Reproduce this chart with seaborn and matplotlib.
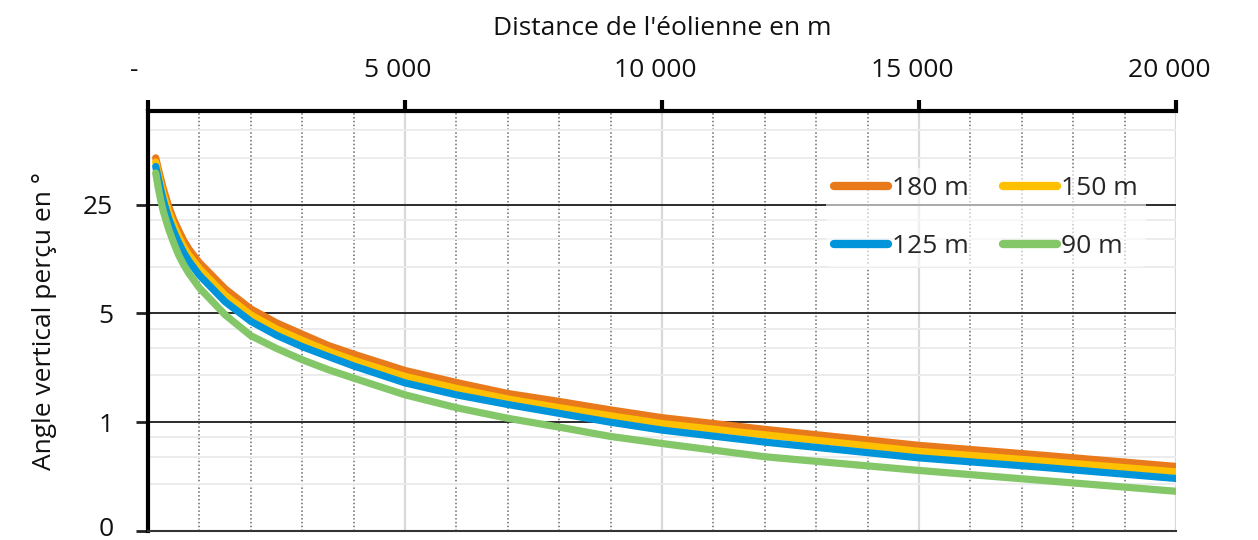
import numpy as np
import pandas as pd
import matplotlib
matplotlib.use("Agg")
import matplotlib.pyplot as plt
import seaborn as sns
from matplotlib.transforms import ScaledTranslation
from matplotlib.ticker import FixedLocator, NullFormatter

# ---- data ----
distances = [150, 200, 250, 300, 400, 500, 600, 700, 800, 1000, 1500, 2000, 2500,
             3000, 3500, 4000, 5000, 6000, 7000, 8000, 9000, 10000, 12000, 15000,
             17500, 20000]
angle_180 = [50.0, 42.5, 36.5, 31.5, 24.5, 20.0, 17.0, 14.6, 12.9, 10.6, 7.2, 5.35, 4.35,
             3.68, 3.12, 2.74, 2.15, 1.80, 1.53, 1.36, 1.20, 1.07, 0.90, 0.71, 0.61, 0.52]
angle_150 = [47.0, 39.5, 33.5, 29.0, 22.5, 18.5, 15.5, 13.3, 11.8, 9.7, 6.55, 4.9, 3.97,
             3.36, 2.87, 2.50, 1.97, 1.65, 1.41, 1.24, 1.10, 0.98, 0.83, 0.65, 0.56, 0.48]
angle_125 = [44.0, 37.0, 31.0, 26.5, 20.5, 16.8, 14.2, 12.2, 10.8, 8.8, 5.95, 4.45, 3.62,
             3.06, 2.65, 2.30, 1.79, 1.50, 1.30, 1.14, 1.00, 0.89, 0.745, 0.59, 0.51, 0.435]
angle_90 = [40.0, 32.0, 26.5, 22.5, 17.5, 14.2, 11.8, 10.2, 9.0, 7.3, 4.9, 3.6, 2.98,
            2.52, 2.18, 1.92, 1.50, 1.24, 1.06, 0.93, 0.81, 0.73, 0.60, 0.49, 0.42, 0.36]
series_labels = ["180 m", "150 m", "125 m", "90 m"]
series_colors = ["#E87A1C", "#FFC000", "#0095DA", "#84C769"]

x_ticks = [0, 5000, 10000, 15000, 20000]
x_tick_labels = ["-", "5 000", "10 000", "15 000", "20 000"]
y_ticks = [0.2, 1, 5, 25]
y_tick_labels = ["0", "1", "5", "25"]
y_minor = [0.4, 0.6, 0.8, 2, 3, 4, 10, 15, 20, 50, 75]

frames = []
for lab, vals in zip(series_labels, [angle_180, angle_150, angle_125, angle_90]):
    frames.append(pd.DataFrame({"distance": distances, "angle": vals, "hauteur": lab}))
df = pd.concat(frames, ignore_index=True)

sns.set_theme(style="white")
plt.rcParams["font.family"] = ["Open Sans", "DejaVu Sans"]

fig = plt.figure(figsize=(12.58, 5.40), dpi=100)
ax = fig.add_axes([148 / 1258, 1 - 531 / 540, (1176 - 148) / 1258, (531 - 111) / 540])

sns.lineplot(data=df, x="distance", y="angle", hue="hauteur", hue_order=series_labels,
             palette=series_colors, linewidth=5.2, ax=ax, zorder=5,
             solid_capstyle="round", solid_joinstyle="round", legend=True)

ax.set_yscale("log", base=5)
ax.set_ylim(0.2, 100)
ax.set_xlim(0, 20000)

# y ticks
ax.yaxis.set_major_locator(FixedLocator(y_ticks))
ax.set_yticklabels(y_tick_labels)
ax.yaxis.set_minor_locator(FixedLocator(y_minor))
ax.yaxis.set_minor_formatter(NullFormatter())
ax.tick_params(axis="y", which="major", direction="out", length=9, width=2,
               color="#222222", left=True, labelsize=19, pad=16, labelcolor="#111111")
ax.tick_params(axis="y", which="minor", length=0)
ylbls = ax.get_yticklabels()
ylbls[0].set_transform(ylbls[0].get_transform() + ScaledTranslation(0, 5 / 100, fig.dpi_scale_trans))

# x ticks on top
ax.xaxis.tick_top()
ax.xaxis.set_label_position("top")
ax.set_xticks(x_ticks)
ax.set_xticklabels(x_tick_labels)
ax.xaxis.set_minor_locator(FixedLocator([v for v in range(1000, 20000, 1000) if v % 5000]))
ax.tick_params(axis="x", which="major", direction="out", length=8, width=3,
               color="black", top=True, bottom=False, labelsize=19, pad=12,
               labelcolor="#111111")
ax.tick_params(axis="x", which="minor", length=0)
for i, lbl in enumerate(ax.get_xticklabels()):
    shift = -14 if i == 0 else -7
    lbl.set_transform(lbl.get_transform() + ScaledTranslation(shift / 100, 0, fig.dpi_scale_trans))

# grids
ax.grid(False)
ax.yaxis.grid(True, which="major", color="#2b2b2b", linewidth=1.4, zorder=1)
ax.yaxis.grid(True, which="minor", color="#ececec", linewidth=1.4, zorder=0)
ax.xaxis.grid(True, which="major", color="#d9d9d9", linewidth=1.6, zorder=0)
ax.xaxis.grid(True, which="minor", color="#6a6a6a", linewidth=1.1, linestyle=(0, (1, 1.5)), zorder=1)
ax.set_axisbelow(True)

# spines
for s in ["top", "left"]:
    ax.spines[s].set_visible(True)
    ax.spines[s].set_color("black")
    ax.spines[s].set_linewidth(3)
ax.spines["right"].set_visible(False)
ax.spines["bottom"].set_visible(True)
ax.spines["bottom"].set_color("#333333")
ax.spines["bottom"].set_linewidth(1.5)

ax.set_xlabel("Distance de l'éolienne en m", fontsize=19, labelpad=17, color="#111111")
ax.set_ylabel("Angle vertical perçu en °", fontsize=19, labelpad=19, color="#111111")

# legend: rows 180/150 then 125/90
handles, labels = ax.get_legend_handles_labels()
hmap = dict(zip(labels, handles))
order = ["180 m", "125 m", "150 m", "90 m"]
leg = ax.legend([hmap[k] for k in order], order, ncol=2, loc="upper left",
                bbox_to_anchor=(0.647, 0.895), fontsize=19, frameon=True,
                handlelength=2.05, handletextpad=0.15, columnspacing=1.3,
                labelspacing=1.25, borderpad=0.3)
leg.get_frame().set_facecolor("white")
leg.get_frame().set_alpha(0.6)
leg.get_frame().set_edgecolor("none")
for line in leg.get_lines():
    line.set_linewidth(6)
    line.set_solid_capstyle("round")
leg.set_zorder(10)

fig.savefig("out.png", dpi=100)
